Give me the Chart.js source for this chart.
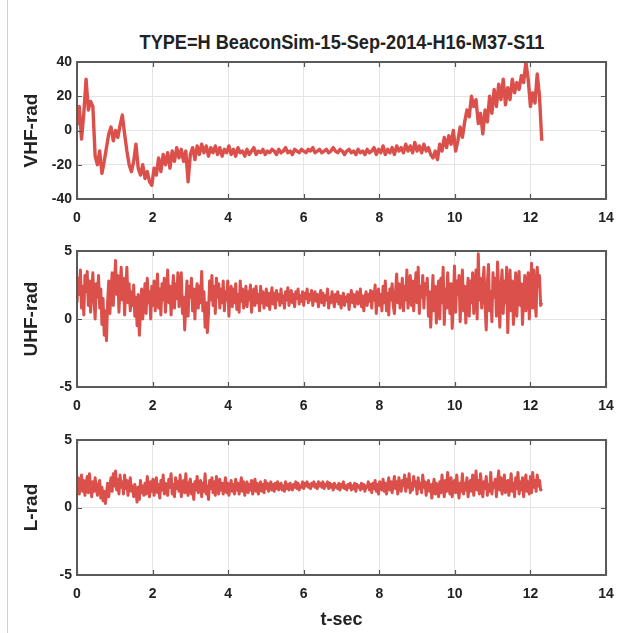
<!DOCTYPE html>
<html>
<head>
<meta charset="utf-8">
<script src="https://cdn.jsdelivr.net/npm/chart.js@4.4.1/dist/chart.umd.min.js"></script>
<style>
  html, body { margin: 0; padding: 0; background: #fff; }
  #wrap { position: relative; width: 618px; height: 633px; overflow: hidden; background: #fff; }
  canvas { position: absolute; left: 0; }
  #title { position: absolute; top: 31px; left: 341.5px; white-space: nowrap;
           font: bold 21px 'Liberation Sans', Arial, sans-serif; line-height: 21px; color: #222;
           transform: translateX(-50%) scaleX(0.864); transform-origin: center; }
  #edge { position: absolute; left: 7px; top: 0; width: 1px; height: 633px; background: #cfcfcf; }
</style>
</head>
<body>
<div id="wrap">
  <div id="edge"></div>
  <div id="title">TYPE=H BeaconSim-15-Sep-2014-H16-M37-S11</div>
  <canvas id="c1" width="618" height="232" style="top:0px"></canvas>
  <canvas id="c2" width="618" height="190" style="top:232px"></canvas>
  <canvas id="c3" width="618" height="211" style="top:422px"></canvas>
</div>
<script>
// ---- data ----
const vhfStep = 0.06; // seconds between VHF samples
const uhfStep = 0.03; // seconds between UHF samples
const lStep = 0.03;   // seconds between L samples
const xTicks = [0, 2, 4, 6, 8, 10, 12, 14];
const vhfTicks = [-40, -20, 0, 20, 40];
const uhfTicks = [-5, 0, 5];
const lTicks = [-5, 0, 5];

const vhfRad = [
  3, 14, -5, 10, 30, 12, 17, 14, -15, -20,
  -12, -25, -18, -10, -2, 2, -6, 0, -4, 3,
  9, -2, -12, -20, -24, -18, -8, -22, -26, -20,
  -28, -24, -30, -32, -22, -26, -16, -24, -14, -20,
  -13, -22, -12, -18, -10, -16, -11, -18, -12, -30,
  -14, -10, -17, -9, -14, -8, -13, -9, -15, -10,
  -13, -9, -14, -10, -15, -11, -13, -9, -14, -11,
  -15, -10, -13, -12, -15, -11, -14, -12, -10, -14,
  -12, -13, -11, -14, -12, -13, -11, -12, -14, -11,
  -13, -12, -10, -13, -12, -14, -11, -12, -13, -11,
  -12, -13, -11, -12, -10, -13, -12, -11, -13, -12,
  -11, -13, -12, -10, -12, -13, -11, -12, -14, -12,
  -11, -13, -12, -14, -11, -13, -12, -14, -11, -13,
  -12, -10, -14, -11, -13, -9, -14, -11, -13, -10,
  -14, -9, -12, -10, -13, -8, -12, -9, -13, -7,
  -12, -9, -13, -8, -12, -10, -14, -16, -12, -17,
  -8, -12, -4, -10, -3, -8, 0, -12, -6, 2,
  -4, 5, 12, 8, 20, 14, 18, 4, 10, -2,
  12, 5, 20, 10, 24, 14, 27, 18, 30, 15,
  25, 18, 30, 22, 28, 24, 32, 28, 40, 30,
  14, 22, 16, 33, 20, -6
];

const uhfRad = [
  1.2, 3.0, 1.8, 3.6, 0.8, 2.4, 0.3, 3.2, 2.0, 3.5,
  1.0, 2.8, 0.5, 2.2, 3.4, 1.4, 0.0, 2.6, 1.6, 3.2,
  0.8, 2.2, -0.4, 1.5, -1.2, 0.6, -1.6, 1.2, 2.8, 0.4,
  2.0, 3.4, 1.0, 2.6, 4.3, 1.8, 3.2, 0.5, 2.4, 3.8,
  1.4, 3.0, 0.3, 2.2, 3.8, 1.2, 2.6, 0.6, 2.0, 1.0,
  2.5, 0.2, 1.6, -0.5, 1.8, -1.2, 0.6, 2.2, 0.0, 1.4,
  2.6, 0.4, 3.0, 1.2, 2.0, 0.0, 2.4, 1.0, 2.8, 0.6,
  1.8, 3.3, 0.8, 2.2, 0.3, 2.6, 1.4, 3.0, 0.5, 2.0,
  3.6, 1.2, 2.4, 0.3, 1.8, 3.2, 0.8, 2.6, 1.5, 3.4,
  0.9, 2.2, 3.4, 0.4, 1.6, -0.8, 1.2, 2.8, 0.2, 2.4,
  1.6, 3.0, 0.6, 2.2, 0.0, 1.8, 2.6, 0.8, 2.4, 1.2,
  3.5, 0.6, 2.0, -0.6, 1.2, -1.0, 0.4, 2.8, 1.4, 3.2,
  1.0, 2.4, 0.4, 3.0, 1.6, 2.6, 0.8, 2.2, 1.2, 2.8,
  0.6, 2.0, 1.4, 2.8, 0.2, 1.8, 2.4, 0.9, 2.2, 1.2,
  2.6, 0.7, 1.8, 0.5, 2.8, 1.3, 2.2, 0.8, 1.6, 2.4,
  0.9, 2.0, 1.4, 2.5, 0.5, 1.7, 2.2, 1.0, 2.4, 1.2,
  1.8, 0.6, 2.4, 1.2, 2.0, 0.8, 1.5, 2.2, 1.0, 1.9,
  0.7, 1.6, 2.3, 1.1, 1.9, 0.8, 2.1, 1.4, 1.8, 1.0,
  2.2, 1.2, 1.7, 0.8, 2.0, 1.4, 2.3, 1.0, 1.6, 2.1,
  1.2, 1.8, 0.9, 2.0, 1.5, 2.2, 1.1, 1.7, 1.3, 2.0,
  1.0, 1.9, 1.5, 2.2, 1.2, 1.8, 1.4, 2.1, 1.0, 1.7,
  2.0, 1.3, 1.8, 0.9, 1.6, 2.1, 1.2, 1.9, 1.0, 1.7,
  1.4, 2.2, 0.8, 1.6, 1.2, 2.0, 1.5, 0.9, 1.8, 1.3,
  2.0, 1.1, 1.7, 0.8, 1.5, 1.9, 1.0, 1.6, 1.3, 1.8,
  0.7, 1.5, 2.1, 1.2, 1.8, 0.9, 1.6, 2.0, 1.1, 1.4,
  2.2, 0.9, 1.7, 0.6, 1.5, 2.0, 1.0, 1.8, 1.3, 2.1,
  0.8, 2.0, 1.4, 2.5, 0.4, 1.6, 2.2, 1.0, 1.8, 0.6,
  2.4, 1.2, 2.8, 0.6, 1.9, 0.3, 2.2, 1.4, 2.6, 1.0,
  0.4, 2.0, 3.3, 1.2, 2.6, 0.8, 1.8, 3.0, 0.6, 2.4,
  1.4, 3.6, 0.8, 2.2, 3.2, 1.0, 2.8, 0.6, 2.0, 3.4,
  1.2, 3.8, 0.4, 2.4, 1.6, 3.2, 0.8, 2.6, 1.8, 3.0,
  0.2, 2.0, -0.6, 1.4, 3.2, 0.6, 2.4, -0.3, 1.8, 2.8,
  0.0, 3.0, 1.2, 3.8, -0.4, 2.2, 0.8, 3.4, 1.6, 0.4,
  2.6, -0.7, 1.4, 3.9, 0.5, 2.8, 1.8, 3.2, -0.2, 2.0,
  3.6, 0.6, 2.4, -0.3, 1.6, 3.0, 0.2, 2.8, 1.2, 3.4,
  0.4, 2.2, 3.6, 0.0, 4.8, 1.4, 3.0, 0.8, 2.4, 3.8,
  1.0, -0.8, 2.6, 4.0, 0.6, 2.0, -0.2, 3.4, 1.6, 3.0,
  0.2, 4.2, 1.8, -0.6, 2.4, 3.6, 0.4, 2.8, 1.2, 3.8,
  -1.0, 2.0, 3.6, 0.6, 2.8, -0.4, 1.6, 3.4, 0.2, 2.4,
  3.5, 1.0, 2.6, -0.4, 1.8, 3.2, 0.6, 2.2, 3.4, 0.0,
  2.0, 4.1, 0.8, 3.6, 1.4, 0.2, 3.8, 2.4, 3.2, 1.0,
  1.2
];

const lRad = [
  1.4, 2.2, 1.0, 1.8, 2.4, 1.2, 2.0, 0.9, 1.6, 2.3,
  1.1, 2.5, 1.5, 0.8, 1.9, 1.2, 2.2, 1.4, 0.9, 1.7,
  2.0, 0.7, 1.5, 0.5, 1.2, 0.3, 1.0, 1.8, 0.8, 1.6,
  2.2, 1.2, 2.5, 1.6, 2.7, 1.3, 2.1, 1.0, 2.4, 1.5,
  1.9, 1.0, 2.4, 1.4, 2.0, 0.9, 1.7, 2.2, 1.2, 1.6,
  0.8, 1.7, 1.2, 0.4, 1.5, 0.6, 2.0, 1.1, 1.6, 0.9,
  1.8, 1.0, 2.3, 1.4, 0.8, 1.9, 1.2, 2.1, 0.9, 1.6,
  2.2, 1.1, 1.7, 0.7, 2.0, 1.3, 2.4, 1.0, 1.8, 1.3,
  0.9, 2.1, 1.5, 2.5, 1.0, 1.7, 0.8, 2.2, 1.4, 1.9,
  1.2, 2.4, 0.8, 1.6, 2.0, 1.1, 2.5, 1.3, 0.9, 1.8,
  2.1, 1.0, 1.7, 0.6, 1.9, 1.3, 2.3, 1.1, 1.6, 2.0,
  0.8, 1.8, 1.2, 2.5, 1.0, 1.6, 0.6, 2.0, 1.4, 2.2,
  1.1, 1.9, 0.9, 2.3, 1.5, 1.0, 2.1, 1.3, 1.8, 1.0,
  1.6, 2.2, 1.1, 1.8, 0.9, 1.5, 2.0, 1.2, 1.7, 1.0,
  2.1, 1.3, 1.8, 1.0, 1.6, 2.2, 1.2, 1.9, 0.9, 1.5,
  1.9, 1.1, 1.7, 1.3, 2.0, 1.0, 1.6, 2.1, 1.2, 1.8,
  1.0, 1.6, 1.9, 1.2, 1.7, 1.1, 2.0, 1.4, 1.8, 1.2,
  1.5, 1.9, 1.3, 1.7, 1.2, 1.8, 1.4, 1.9, 1.3, 1.6,
  1.8, 1.3, 1.6, 1.2, 1.9, 1.4, 1.7, 1.3, 1.8, 1.5,
  1.3, 1.7, 1.5, 1.9, 1.4, 1.8, 1.3, 1.6, 1.5, 1.9,
  1.4, 1.8, 1.6, 1.9, 1.5, 1.7, 1.4, 1.8, 1.6, 1.9,
  1.5, 1.7, 1.4, 1.9, 1.6, 1.8, 1.5, 1.9, 1.4, 1.7,
  1.6, 1.9, 1.4, 1.8, 1.5, 1.7, 1.3, 1.8, 1.5, 1.6,
  1.4, 1.8, 1.3, 1.7, 1.5, 1.9, 1.4, 1.6, 1.3, 1.7,
  1.5, 1.8, 1.3, 1.6, 1.4, 1.8, 1.2, 1.7, 1.5, 1.6,
  1.3, 1.8, 1.4, 1.7, 1.2, 1.6, 1.5, 1.9, 1.3, 1.7,
  1.1, 1.8, 1.4, 2.0, 1.2, 1.7, 1.0, 1.9, 1.5, 1.3,
  2.1, 1.2, 1.8, 1.0, 1.6, 2.2, 1.3, 1.9, 1.1, 1.7,
  2.3, 1.4, 1.9, 1.0, 2.2, 1.5, 1.2, 2.0, 1.6, 2.4,
  1.2, 2.1, 1.5, 2.5, 1.1, 1.8, 1.3, 2.3, 1.6, 1.9,
  1.0, 2.2, 1.4, 1.8, 1.1, 2.4, 1.5, 1.9, 0.9, 1.6,
  2.0, 1.2, 1.7, 0.7, 1.5, 2.1, 1.0, 1.8, 1.3, 0.8,
  1.9, 1.1, 2.4, 1.4, 0.8, 2.0, 1.2, 2.6, 1.5, 1.0,
  2.2, 0.8, 1.6, 2.0, 1.1, 2.4, 1.4, 0.7, 1.8, 1.2,
  2.5, 1.0, 1.8, 1.3, 2.2, 0.8, 1.6, 2.0, 1.2, 2.4,
  0.9, 1.7, 2.7, 1.3, 2.0, 1.0, 2.5, 1.5, 0.8, 1.9,
  1.4, 2.3, 0.9, 1.7, 1.2, 2.6, 1.0, 1.8, 1.5, 2.1,
  0.8, 1.9, 2.7, 1.3, 2.2, 1.0, 1.6, 2.4, 1.1, 1.8,
  2.0, 0.9, 1.6, 2.5, 1.2, 1.8, 0.8, 2.2, 1.4, 2.6,
  1.0, 1.9, 1.3, 2.2, 0.8, 1.7, 2.4, 1.2, 1.9, 1.0,
  2.3, 1.1, 2.6, 1.5, 2.0, 1.2, 2.4, 1.6, 2.0, 1.3,
  1.4
];

// ---- rendering ----
const LINE = 'rgb(219,80,74)';
const FONT = "'Liberation Sans', Arial, sans-serif";

const boxPlugin = {
  id: 'box',
  afterDatasetsDraw(chart) {
    const { ctx, chartArea: a, scales: { x, y } } = chart;
    ctx.save();
    ctx.beginPath();
    ctx.strokeStyle = '#555';
    ctx.lineWidth = 1.2;
    x.ticks.forEach(t => {
      const px = Math.round(x.getPixelForValue(t.value)) + 0.5;
      ctx.moveTo(px, a.bottom); ctx.lineTo(px, a.bottom - 5);
      ctx.moveTo(px, a.top); ctx.lineTo(px, a.top + 5);
    });
    y.ticks.forEach(t => {
      const py = Math.round(y.getPixelForValue(t.value)) + 0.5;
      ctx.moveTo(a.left, py); ctx.lineTo(a.left + 5, py);
      ctx.moveTo(a.right, py); ctx.lineTo(a.right - 5, py);
    });
    ctx.stroke();
    ctx.lineWidth = 2;
    ctx.strokeStyle = '#5a5a5a';
    ctx.strokeRect(a.left, a.top, a.right - a.left, a.bottom - a.top);
    ctx.restore();
  }
};

function makeChart(id, values, step, yTicks, yTitle, padTop, xHeight, xTitle, lw) {
  const pts = values.map((v, i) => ({ x: +(i * step).toFixed(2), y: v }));
  return new Chart(document.getElementById(id), {
    type: 'line',
    data: { datasets: [{ data: pts, borderColor: LINE, borderWidth: lw, pointRadius: 0, tension: 0, fill: false, borderJoinStyle: 'round' }] },
    options: {
      responsive: false,
      animation: false,
      devicePixelRatio: 1,
      layout: { padding: { left: 0, right: 12, top: padTop, bottom: 0 } },
      plugins: { legend: { display: false }, tooltip: { enabled: false }, title: { display: false } },
      scales: {
        x: {
          type: 'linear', min: 0, max: 14,
          afterBuildTicks: s => { s.ticks = xTicks.map(v => ({ value: v })); },
          afterFit: s => { s.height = xHeight; s.paddingLeft = 0; s.paddingRight = 0; },
          grid: { color: '#e4e4e4', lineWidth: 1, drawTicks: false },
          border: { display: false },
          ticks: { autoSkip: false, maxRotation: 0, padding: 11, color: '#222', font: { family: FONT, size: 14, weight: 'bold' } },
          title: xTitle ? { display: true, text: xTitle, color: '#222', padding: { top: 0, bottom: 2 }, font: { family: FONT, size: 18, weight: 'bold' } } : { display: false }
        },
        y: {
          type: 'linear', min: yTicks[0], max: yTicks[yTicks.length - 1],
          afterBuildTicks: s => { s.ticks = yTicks.map(v => ({ value: v })); },
          afterFit: s => { s.width = 77; s.paddingTop = 0; s.paddingBottom = 0; },
          grid: { color: '#e4e4e4', lineWidth: 1, drawTicks: false },
          border: { display: false },
          ticks: { autoSkip: false, padding: 5, color: '#222', font: { family: FONT, size: 14, weight: 'bold' } },
          title: { display: true, text: yTitle, color: '#222', padding: { top: 20, bottom: 0 }, font: { family: FONT, size: 19, weight: 'bold' } }
        }
      }
    },
    plugins: [boxPlugin]
  });
}

makeChart('c1', vhfRad, vhfStep, vhfTicks, 'VHF-rad', 62, 33, null, 3.4);
makeChart('c2', uhfRad, uhfStep, uhfTicks, 'UHF-rad', 19, 35, null, 3);
makeChart('c3', lRad, lStep, lTicks, 'L-rad', 18, 58, 't-sec', 3);
</script>
</body>
</html>
